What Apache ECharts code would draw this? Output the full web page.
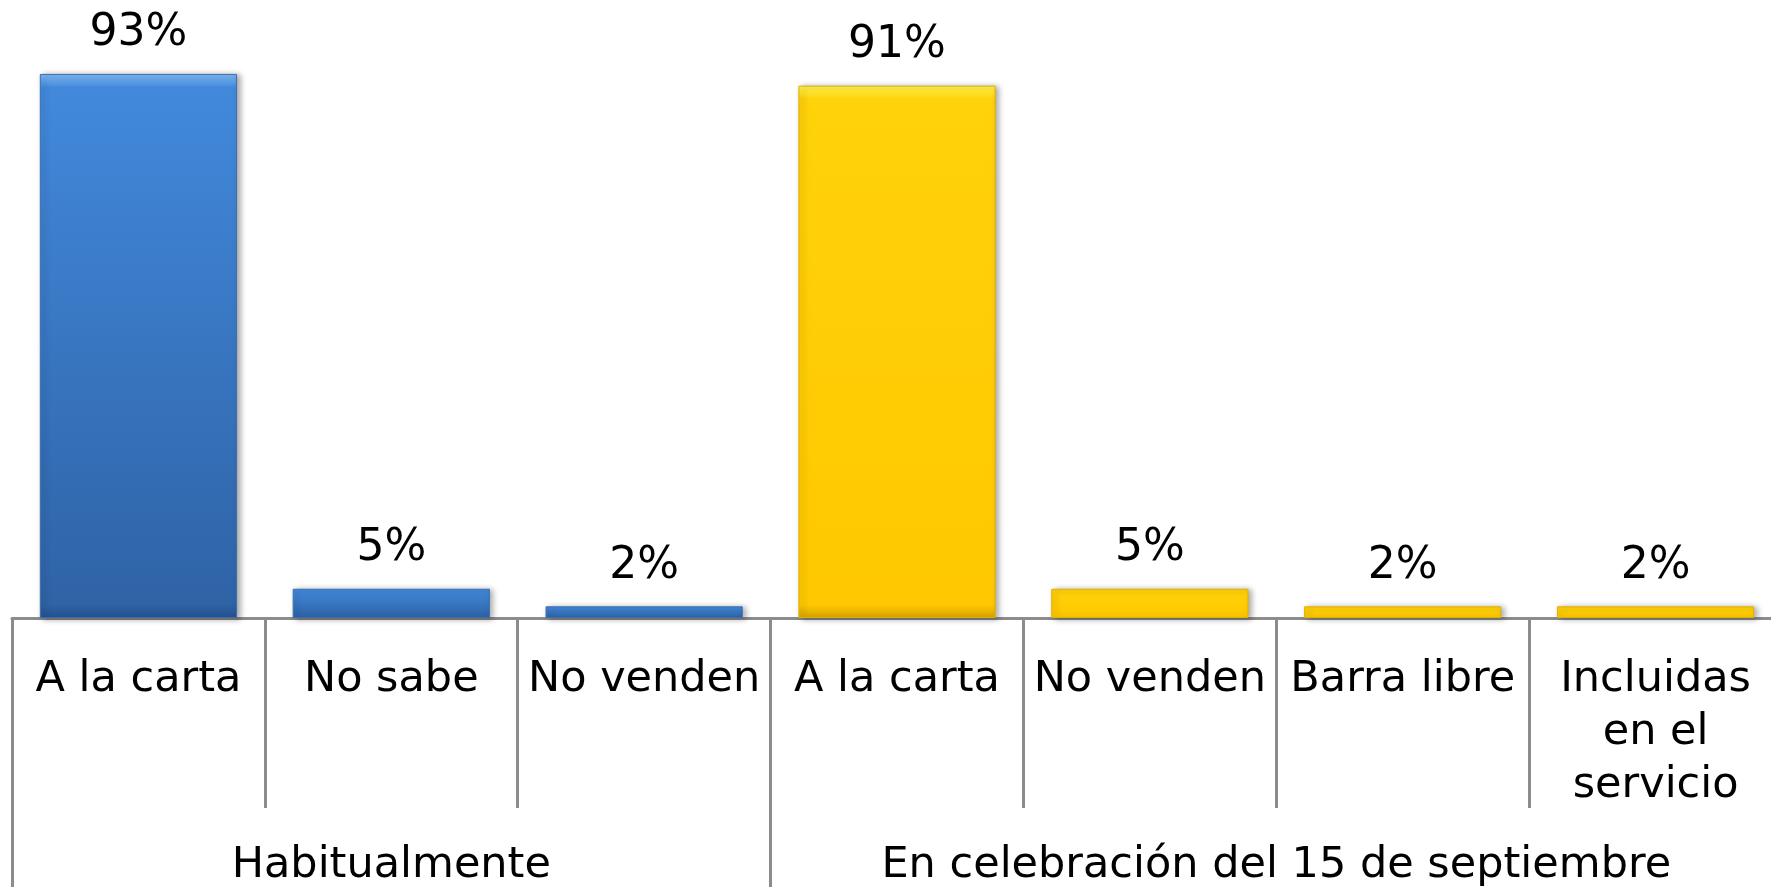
<!DOCTYPE html>
<html>
<head>
<meta charset="utf-8">
<script src="https://cdn.jsdelivr.net/npm/echarts@6/dist/echarts.min.js"></script>
<style>
  html, body { margin: 0; padding: 0; background: #fff; }
  #chart { width: 1771px; height: 887px; }
</style>
</head>
<body>
<div id="chart"></div>
<script>
// categorias y valores (%)
var categories = ['A la carta', 'No sabe', 'No venden', 'A la carta', 'No venden', 'Barra libre', 'Incluidas\nen el\nservicio'];
var values = [93, 5, 2, 91, 5, 2, 2];
var groupOf = [0, 0, 0, 1, 1, 1, 1];
var groupNames = ['Habitualmente', 'En celebración del 15 de septiembre'];
var groupBounds = [0, 3, 7];
var groupCenters = [1.5, 5];

var fontFam = 'Verdana, "DejaVu Sans", sans-serif';
var axisGrey = '#8c8c8c';

var groupColors = [
  new echarts.graphic.LinearGradient(0, 0, 0, 1, [
    { offset: 0, color: '#7fb8f2' },
    { offset: 0.025, color: '#4289dc' },
    { offset: 0.975, color: '#2f63a6' },
    { offset: 1, color: '#24538f' },
  ]),
  new echarts.graphic.LinearGradient(0, 0, 0, 1, [
    { offset: 0, color: '#fff450' },
    { offset: 0.025, color: '#ffd20a' },
    { offset: 0.975, color: '#ffc800' },
    { offset: 1, color: '#d9a400' },
  ]),
];
var borderColors = ['#3a6fb0', '#e0b000'];

var barData = values.map(function(v, i) {
  return {
    value: v,
    itemStyle: {
      color: groupColors[groupOf[i]],
      borderColor: borderColors[groupOf[i]],
    },
  };
});

var myChart = echarts.init(document.getElementById('chart'));
myChart.setOption({
  animation: false,
  grid: {
    left: 12,
    right: -11,
    top: 33,
    bottom: 269,
    containLabel: false,
    outerBoundsMode: 'none',
  },
  xAxis: [
    {
      type: 'category',
      data: categories,
      axisLine: {
        lineStyle: { color: axisGrey, width: 3 },
      },
      axisTick: {
        show: true,
        length: 190,
        lineStyle: { color: axisGrey, width: 3 },
      },
      axisLabel: {
        interval: 0,
        margin: 35,
        color: '#000',
        fontFamily: fontFam,
        fontSize: 43,
        lineHeight: 53,
        align: 'center',
      },
    },
    {
      type: 'value',
      position: 'bottom',
      min: 0,
      max: 7,
      axisLine: { show: false },
      splitLine: { show: false },
      axisTick: {
        show: true,
        customValues: groupBounds,
        length: 270,
        lineStyle: { color: axisGrey, width: 3 },
      },
      axisLabel: {
        customValues: groupCenters,
        margin: 226,
        color: '#000',
        fontFamily: fontFam,
        fontSize: 43,
        formatter: function(value) {
          return groupNames[groupCenters.indexOf(value)];
        },
      },
    },
  ],
  yAxis: {
    type: 'value',
    min: 0,
    max: 100,
    show: false,
  },
  series: [
    {
      type: 'bar',
      barCategoryGap: '22%',
      data: barData,
      itemStyle: {
        borderWidth: 1,
        shadowColor: 'rgba(0,0,0,0.35)',
        shadowBlur: 6,
        shadowOffsetX: 3,
        shadowOffsetY: 1,
      },
      label: {
        show: true,
        position: 'top',
        distance: 18,
        color: '#000',
        fontFamily: fontFam,
        fontSize: 44,
        formatter: '{c}%',
      },
    },
  ],
});
</script>
</body>
</html>
